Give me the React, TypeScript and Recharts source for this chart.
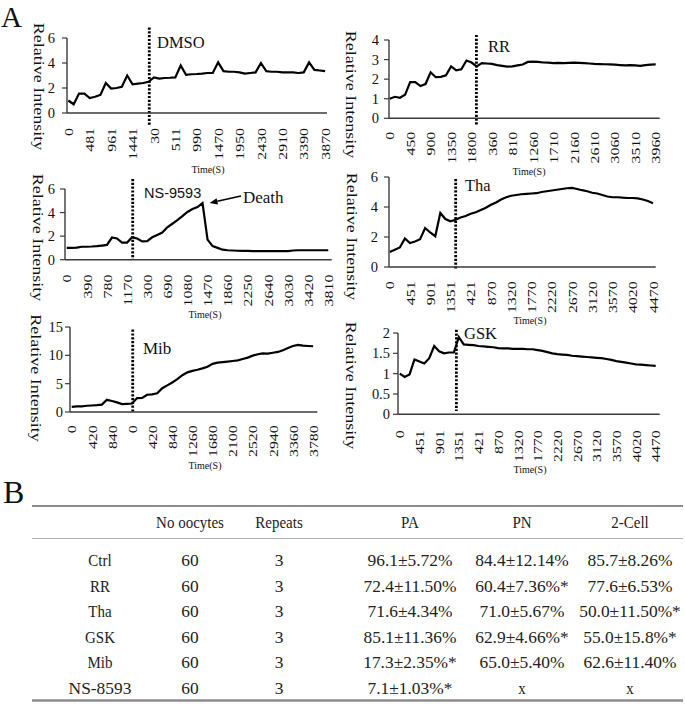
import React from 'react';
import { LineChart, Line, XAxis, YAxis, ReferenceLine } from 'recharts';

const SERIF = '"Liberation Serif", "Times New Roman", serif';
const SANS = '"Liberation Sans", Arial, sans-serif';
const AXIS = '#3a3a3a';

// time tick labels (s) and traces; traces are sampled 4 points per tick step
const dmsoTicks = ['0', '481', '961', '1441', '30', '511', '990', '1470', '1950', '2430', '2910', '3390', '3870'];
const dmsoValues = [
  1.0, 0.7, 1.55, 1.55, 1.2, 1.3, 1.45, 2.4, 1.95, 2.0, 2.1, 3.0, 2.3, 2.35, 2.4, 2.5, 2.85, 2.75, 2.8, 2.82,
  2.85, 3.8, 3.05, 3.1, 3.12, 3.15, 3.2, 3.2, 4.05, 3.35, 3.3, 3.3, 3.25, 3.15, 3.2, 3.25, 4.0, 3.35, 3.3, 3.3,
  3.25, 3.25, 3.25, 3.2, 3.25, 4.05, 3.45, 3.4, 3.35,
];

const rrTicks = ['0', '450', '900', '1350', '1800', '360', '810', '1260', '1710', '2160', '2610', '3060', '3510', '3960'];
const rrValues = [
  1.0, 1.1, 1.05, 1.2, 1.85, 1.85, 1.65, 1.75, 2.35, 2.1, 2.12, 2.2, 2.65, 2.45, 2.5, 2.95, 2.85, 2.65, 2.82, 2.8,
  2.78, 2.72, 2.68, 2.64, 2.65, 2.7, 2.75, 2.88, 2.9, 2.88, 2.85, 2.84, 2.82, 2.83, 2.82, 2.83, 2.84, 2.83, 2.82, 2.8,
  2.78, 2.77, 2.76, 2.75, 2.74, 2.72, 2.7, 2.72, 2.7, 2.68, 2.72, 2.74, 2.75,
];

const nsTicks = ['0', '390', '780', '1170', '300', '690', '1080', '1470', '1860', '2250', '2640', '3030', '3420', '3810'];
const nsValues = [
  1.0, 1.0, 1.02, 1.1, 1.1, 1.12, 1.15, 1.2, 1.25, 1.88, 1.8, 1.45, 1.45, 1.9, 1.8, 1.55, 1.58, 1.9, 2.1, 2.3,
  2.75, 3.05, 3.35, 3.7, 4.05, 4.3, 4.47, 4.8, 1.7, 1.15, 1.0, 0.85, 0.8, 0.78, 0.76, 0.75, 0.74, 0.73, 0.72, 0.72,
  0.72, 0.72, 0.72, 0.72, 0.72, 0.78, 0.8, 0.8, 0.8, 0.8, 0.8, 0.8, 0.8,
];

const thaTicks = ['0', '451', '901', '1351', '421', '870', '1320', '1770', '2220', '2670', '3120', '3570', '4020', '4470'];
const thaValues = [
  1.0, 1.15, 1.3, 1.9, 1.6, 1.7, 1.85, 2.6, 2.3, 2.05, 3.6, 3.2, 3.05, 3.15, 3.3, 3.4, 3.55, 3.65, 3.8, 3.95,
  4.15, 4.3, 4.5, 4.65, 4.75, 4.8, 4.85, 4.88, 4.9, 4.92, 5.0, 5.05, 5.1, 5.15, 5.2, 5.25, 5.27, 5.2, 5.12, 5.05,
  4.95, 4.9, 4.8, 4.7, 4.65, 4.65, 4.62, 4.6, 4.6, 4.57, 4.5, 4.4, 4.25,
];

const mibTicks = ['0', '420', '840', '0', '420', '840', '1260', '1680', '2100', '2520', '2940', '3360', '3780'];
const mibValues = [
  0.9, 1.0, 1.0, 1.1, 1.15, 1.2, 1.3, 2.15, 1.95, 1.7, 1.4, 1.45, 1.5, 2.45, 2.5, 3.05, 3.1, 3.3, 4.2, 4.7,
  5.2, 5.8, 6.5, 7.0, 7.25, 7.45, 7.7, 8.0, 8.5, 8.7, 8.8, 8.9, 9.0, 9.1, 9.35, 9.6, 9.95, 10.2, 10.35, 10.3,
  10.45, 10.6, 10.9, 11.3, 11.65, 11.85, 11.7, 11.65, 11.6,
];

const gskTicks = ['0', '451', '901', '1351', '421', '870', '1320', '1770', '2220', '2670', '3120', '3570', '4020', '4470'];
const gskValues = [
  1.0, 0.92, 0.98, 1.35, 1.3, 1.25, 1.38, 1.68, 1.55, 1.5, 1.52, 1.52, 1.9, 1.72, 1.71, 1.7, 1.68, 1.67, 1.66, 1.65,
  1.63, 1.62, 1.62, 1.61, 1.61, 1.61, 1.6, 1.6, 1.58, 1.56, 1.53, 1.5, 1.48, 1.47, 1.46, 1.44, 1.43, 1.42, 1.41, 1.4,
  1.39, 1.38, 1.36, 1.34, 1.31, 1.29, 1.27, 1.25, 1.23, 1.22, 1.21, 1.2, 1.19,
];

// table B
const tableHeaders = ['', 'No oocytes', 'Repeats', 'PA', 'PN', '2-Cell'];
const groups = ['Ctrl', 'RR', 'Tha', 'GSK', 'Mib', 'NS-8593'];
const oocytes = [60, 60, 60, 60, 60, 60];
const repeats = [3, 3, 3, 3, 3, 3];
const paRates = ['96.1±5.72%', '72.4±11.50%', '71.6±4.34%', '85.1±11.36%', '17.3±2.35%*', '7.1±1.03%*'];
const pnRates = ['84.4±12.14%', '60.4±7.36%*', '71.0±5.67%', '62.9±4.66%*', '65.0±5.40%', 'x'];
const cellRates = ['85.7±8.26%', '77.6±6.53%', '50.0±11.50%*', '55.0±15.8%*', '62.6±11.40%', 'x'];

type Layout = {
  x: number; y: number; w: number; h: number;
  xDomain: [number, number];
  yDomain: [number, number];
  yTicks: number[];
  marker: number;
  markerSpan: [number, number];
  labelGap: number;
  yTickMargin: number;
};

const PAD_L = 50;
const PAD_T = 20;
const PAD_R = 10;
const PAD_B = 60;

const Panel = ({ layout, ticks, values }: { layout: Layout; ticks: string[]; values: number[] }) => {
  const data = values.map((v, i) => ({ i, v }));
  const tickIdx = ticks.map((_, k) => k * 4);
  const axisY = PAD_T + layout.h;
  return (
    <div style={{ position: 'absolute', left: layout.x - PAD_L, top: layout.y - PAD_T }}>
      <LineChart
        width={layout.w + PAD_L + PAD_R}
        height={layout.h + PAD_T + PAD_B}
        data={data}
        margin={{ top: PAD_T, right: PAD_R, bottom: 0, left: 0 }}
      >
        <XAxis
          dataKey="i"
          type="number"
          domain={layout.xDomain}
          ticks={tickIdx}
          interval={0}
          allowDataOverflow
          height={PAD_B}
          tickLine={false}
          axisLine={{ stroke: AXIS, strokeWidth: 1.4 }}
          tick={(p: any) => (
            <text
              key={p.index}
              transform={`translate(${p.x},${axisY + layout.labelGap}) rotate(-90) scale(1.22,1)`}
              textAnchor="end"
              dy="0.36em"
              fontSize={13}
              fontFamily={SERIF}
              fill="#111"
            >
              {ticks[Math.round(p.payload.value / 4)]}
            </text>
          )}
        />
        <YAxis
          type="number"
          domain={layout.yDomain}
          ticks={layout.yTicks}
          interval={0}
          allowDataOverflow
          width={PAD_L}
          tickSize={5}
          tickMargin={layout.yTickMargin}
          axisLine={{ stroke: AXIS, strokeWidth: 1.4 }}
          tickLine={{ stroke: AXIS, strokeWidth: 1.2 }}
          tick={{ fill: '#111', fontSize: 14.5, fontFamily: SERIF }}
        />
        <ReferenceLine
          segment={[
            { x: layout.marker, y: layout.markerSpan[0] },
            { x: layout.marker, y: layout.markerSpan[1] },
          ]}
          stroke="#000"
          strokeWidth={2.8}
          strokeDasharray="2.2 1.6"
          ifOverflow="visible"
        />
        <Line type="linear" dataKey="v" stroke="#000" strokeWidth={2.2} dot={false} isAnimationActive={false} />
      </LineChart>
    </div>
  );
};

const layouts: Record<string, Layout> = {
  dmso: { x: 67, y: 37.5, w: 260, h: 75, xDomain: [-0.25, 48.35], yDomain: [0, 6], yTicks: [0, 2, 4, 6], marker: 15.13, markerSpan: [6.84, -1.0], labelGap: 15, yTickMargin: 7 },
  rr: { x: 389.3, y: 40, w: 270.7, h: 78.3, xDomain: [-0.14, 52.78], yDomain: [0, 4], yTicks: [0, 1, 2, 3, 4], marker: 16.95, markerSpan: [4.26, -0.34], labelGap: 13.4, yTickMargin: 5 },
  ns: { x: 65, y: 189.3, w: 266.7, h: 70.7, xDomain: [-0.34, 52.68], yDomain: [0, 6], yTicks: [0, 2, 4, 6], marker: 13.12, markerSpan: [6.85, 0], labelGap: 15, yTickMargin: 5 },
  tha: { x: 389.3, y: 177.3, w: 266.7, h: 90, xDomain: [-0.14, 52.54], yDomain: [0, 6], yTicks: [0, 2, 4, 6], marker: 13.03, markerSpan: [5.87, -0.18], labelGap: 14.4, yTickMargin: 6 },
  mib: { x: 70, y: 326.7, w: 247.3, h: 85, xDomain: [-0.34, 48.83], yDomain: [0, 15], yTicks: [0, 5, 10, 15], marker: 12.13, markerSpan: [14.54, 0], labelGap: 13.3, yTickMargin: 2 },
  gsk: { x: 398.3, y: 332.7, w: 261.7, h: 81.3, xDomain: [-0.35, 52.81], yDomain: [0, 2], yTicks: [0, 0.5, 1, 1.5, 2], marker: 11.51, markerSpan: [2.08, 0.08], labelGap: 16, yTickMargin: 3 },
};

// overlay text positions
const yTitles = [
  { cx: 39, cy: 86.5 },
  { cx: 351, cy: 94.5 },
  { cx: 38, cy: 237.5 },
  { cx: 352, cy: 236.5 },
  { cx: 36, cy: 378 },
  { cx: 351, cy: 385.5 },
];
const xTitles = [
  { cx: 208, cy: 169 },
  { cx: 529, cy: 171.7 },
  { cx: 205, cy: 314 },
  { cx: 530, cy: 320.7 },
  { cx: 205, cy: 465 },
  { cx: 530, cy: 469 },
];
const treatLabels = [
  { text: 'DMSO', x: 157, cy: 42, font: SERIF, size: 16.5 },
  { text: 'RR', x: 488, cy: 46.7, font: SERIF, size: 16.5 },
  { text: 'NS-9593', x: 144, cy: 193.3, font: SANS, size: 14.5 },
  { text: 'Death', x: 243, cy: 196.7, font: SERIF, size: 17 },
  { text: 'Tha', x: 465, cy: 185, font: SERIF, size: 16.5 },
  { text: 'Mib', x: 143, cy: 348.3, font: SERIF, size: 17 },
  { text: 'GSK', x: 464, cy: 333.3, font: SERIF, size: 16.5 },
];

const colCenters = [100, 190, 279, 410, 522, 630];
const headerY = 522;
const firstRowY = 560;
const rowStep = 25.6;

const Cell = ({ x, y, text, wide }: { x: number; y: number; text: string; wide: boolean }) => (
  <text
    transform={`translate(${x},${y}) scale(${wide ? 1.16 : 1},1.15)`}
    textAnchor="middle"
    dy="0.35em"
    fontSize={15}
    fontFamily={SERIF}
    fill="#222"
  >
    {text}
  </text>
);

const Overlay = () => {
  const tip = { x: 209.5, y: 203 };
  const tail = { x: 241, y: 196 };
  const dx = tail.x - tip.x;
  const dy = tail.y - tip.y;
  const len = Math.hypot(dx, dy);
  const ux = dx / len;
  const uy = dy / len;
  const bx = tip.x + ux * 8;
  const by = tip.y + uy * 8;
  const head = `${tip.x},${tip.y} ${bx - uy * 3.2},${by + ux * 3.2} ${bx + uy * 3.2},${by - ux * 3.2}`;
  const rows = groups.map((g, r) => [g, String(oocytes[r]), String(repeats[r]), paRates[r], pnRates[r], cellRates[r]]);
  return (
    <svg width={685} height={704} style={{ position: 'absolute', left: 0, top: 0, pointerEvents: 'none' }}>
      <text x={1} y={27} fontSize={29} fontFamily={SERIF} fill="#111">A</text>
      <text x={3} y={503} fontSize={32} fontFamily={SERIF} fill="#111">B</text>
      {yTitles.map((t, k) => (
        <text
          key={`yt${k}`}
          transform={`translate(${t.cx},${t.cy}) rotate(90) scale(1.2,1)`}
          textAnchor="middle"
          dy="0.35em"
          fontSize={15}
          fontFamily={SERIF}
          fill="#111"
        >
          Relative Intensity
        </text>
      ))}
      {xTitles.map((t, k) => (
        <text key={`xt${k}`} x={t.cx} y={t.cy} textAnchor="middle" dy="0.35em" fontSize={10} fontFamily={SERIF} fill="#111">
          Time(S)
        </text>
      ))}
      {treatLabels.map((t) => (
        <text key={t.text} x={t.x} y={t.cy} dy="0.35em" fontSize={t.size} fontFamily={t.font} fill="#111">
          {t.text}
        </text>
      ))}
      <line x1={tail.x} y1={tail.y} x2={bx} y2={by} stroke="#000" strokeWidth={1.6} />
      <polygon points={head} fill="#000" />

      <line x1={32} y1={506} x2={683} y2={506} stroke="#8c8c8c" strokeWidth={2} />
      <line x1={32} y1={538.5} x2={683} y2={538.5} stroke="#b0b0b0" strokeWidth={1} />
      <line x1={32} y1={700.5} x2={683} y2={700.5} stroke="#8c8c8c" strokeWidth={2.5} />
      {tableHeaders.map((h, c) => (
        <Cell key={`h${c}`} x={colCenters[c]} y={headerY} text={h} wide={false} />
      ))}
      {rows.map((row, r) =>
        row.map((v, c) => (
          <Cell key={`c${r}-${c}`} x={colCenters[c]} y={firstRowY + r * rowStep} text={v} wide={/\d/.test(v)} />
        ))
      )}
    </svg>
  );
};

export default function App() {
  return (
    <div style={{ position: 'absolute', left: 0, top: 0, width: 685, height: 704, background: '#fff', overflow: 'hidden' }}>
      <Panel layout={layouts.dmso} ticks={dmsoTicks} values={dmsoValues} />
      <Panel layout={layouts.rr} ticks={rrTicks} values={rrValues} />
      <Panel layout={layouts.ns} ticks={nsTicks} values={nsValues} />
      <Panel layout={layouts.tha} ticks={thaTicks} values={thaValues} />
      <Panel layout={layouts.mib} ticks={mibTicks} values={mibValues} />
      <Panel layout={layouts.gsk} ticks={gskTicks} values={gskValues} />
      <Overlay />
    </div>
  );
}
